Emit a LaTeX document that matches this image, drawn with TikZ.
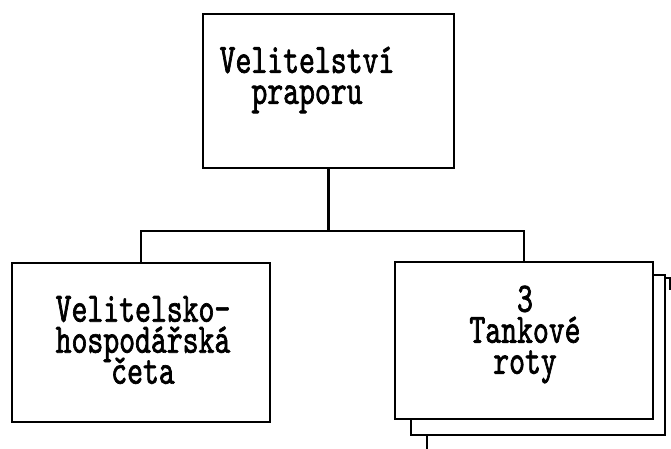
\documentclass[tikz,border=0pt]{standalone}
\usepackage{fontspec}
\newfontfamily\typewr[FakeStretch=0.72, FakeBold=1.6]{lmmono10-regular.otf}
\usetikzlibrary{positioning}
\newcommand\unitfont{\typewr\fontsize{42}{31}\selectfont\lineskiplimit=-60pt\relax}

\tikzset{
  unitbox/.style={draw=black, line width=2.8pt, fill=white, inner sep=0pt},
  unittext/.style={align=center, inner sep=0pt, font=\unitfont},
  link/.style={black, line width=2.8pt}
}

\begin{document}
\begin{tikzpicture}[x=1pt, y=-1pt]
\useasboundingbox (0,0) rectangle (671,449);
%battalion HQ
\node[unitbox, minimum width=251pt, minimum height=154pt] (hq) at (328.5,91) {};
\node[unittext] (hqtxt) at (307,80) {Velitelství\\praporu};
%HQ platoon
\node[unitbox, minimum width=258pt, minimum height=159pt] (plat) at (141,342.5) {};
\node[unittext] (plattxt) at (143,340) {Velitelsko-\\hospodářská\\četa};
%tank companies (stacked)
\draw[link] (665,278) -- (670,278) -- (670,290);%third sheet
\draw[link] (427,435) -- (427,449);%third sheet
\node[unitbox, minimum width=254pt, minimum height=160pt] (coyback) at (538,355) {};
\node[unitbox, minimum width=258pt, minimum height=157pt] (coy) at (524,340.5) {};
\node[unittext] (coytxt) at (525,334.5) {3\\Tankové\\roty};
%lines
\coordinate (bus) at (330,231);
\draw[link] (hq.south) -- (hq.south |- bus);
\draw[link] (plat.north) |- (bus) -| (coy.north);
\end{tikzpicture}
\end{document}
